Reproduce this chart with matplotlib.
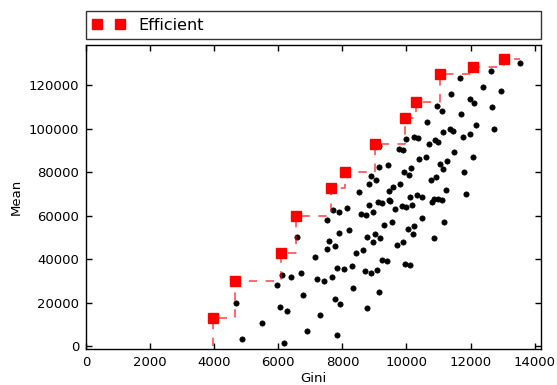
import numpy as np
import matplotlib
matplotlib.use("Agg")
import matplotlib.pyplot as plt

# all portfolios (gini, mean)
gini = [4875, 5478, 6178, 4688, 5969, 6041, 6272, 6125, 6397, 6719,
        6594, 7147, 6759, 6897, 7297, 7209, 7438, 7678, 7756, 7938,
        7828, 8041, 8291, 8338, 7844, 7522, 7781, 7578, 7900, 8203,
        8428, 8631, 8772, 8959, 9025, 9169, 8697, 8884, 9084, 9156,
        8772, 7531, 7697, 7884, 8150, 8572, 8728, 8947, 8844, 9100,
        9241, 8506, 8819, 9063, 8906, 9156, 9428, 9156, 9500, 9634,
        9866, 9991, 10178, 10781, 10500, 9291, 9541, 10041, 10250, 10197,
        10859, 9719, 9891, 9225, 9400, 9959, 10119, 13553, 12647, 11666,
        12391, 12938, 11391, 11991, 12116, 10959, 11094, 12666, 11703, 10656,
        12163, 12728, 11125, 11359, 11453, 11750, 11969, 9991, 10244, 10359,
        10900, 10984, 10694, 9756, 9881, 11478, 12069, 10391, 10619, 11047,
        11256, 11141, 10156, 9913, 10094, 11788, 10906, 10750, 9813, 9594,
        11228, 11853, 10125, 10334, 10469, 10853, 10984, 11094, 9469, 9447,
        11156]
mean = [3200, 10700, 1500, 19900, 28000, 18100, 16100, 32600, 31900, 33400,
        50000, 40800, 23300, 6800, 14200, 30800, 30100, 31500, 21500, 19400,
        36000, 35300, 36800, 26800, 4900, 44600, 46000, 48100, 52000, 53300,
        42900, 44300, 50200, 48000, 51700, 49600, 34300, 33600, 34900, 25000,
        17700, 58000, 62500, 61700, 63400, 60900, 60100, 61500, 64800, 66000,
        65600, 70700, 74700, 76200, 78200, 82100, 83400, 92000, 66700, 63000,
        64400, 63800, 65000, 66000, 59000, 55500, 56900, 53700, 55200, 51600,
        49800, 46300, 47700, 39500, 38900, 37800, 37100, 130000, 126600, 123100,
        119000, 117200, 115700, 113700, 111700, 110300, 108100, 109800, 106500, 103000,
        101700, 99900, 98400, 99600, 98900, 96200, 97600, 95100, 96200, 95600,
        94700, 93700, 93000, 90800, 90200, 89100, 87100, 85800, 86900, 83700,
        85100, 81600, 81800, 80200, 78500, 79800, 77700, 76200, 74300, 73000,
        71600, 69900, 68700, 69500, 68600, 67400, 67700, 67100, 71300, 67100,
        57200]

# efficient frontier
eff_gini = [3959, 4656, 6084, 6553, 7656, 8072, 9009, 9969, 10303, 11041, 12084, 13041]
eff_mean = [12700, 30000, 42600, 59900, 72500, 79900, 92700, 104800, 112000, 124900, 128400, 131800]

plt.rcParams['font.family'] = 'DejaVu Sans'
fig = plt.figure(figsize=(5.57, 3.85), dpi=100)
ax = fig.add_axes([0.1544, 0.0943, 0.817, 0.7888])

ax.plot(gini, mean, 'o', color='black', markersize=3.8, markeredgewidth=0.5, zorder=2)

# frontier as a dashed staircase
step_x = [eff_gini[0]] + eff_gini + [max(gini)]
step_y = [0] + eff_mean + [eff_mean[-1]]
ax.plot(step_x, step_y, color='red', alpha=0.75, linewidth=1.1,
        dashes=(5.5, 5.5), drawstyle='steps-post', zorder=3)
ax.plot(eff_gini, eff_mean, 's', color='red', markersize=7.0,
        markeredgecolor='red', label='Efficient', zorder=4)

ax.set_xlim(0, 14200)
ax.set_ylim(-1240, 138400)
ax.set_xticks(np.arange(0, 14001, 2000))
ax.set_yticks(np.arange(0, 120001, 20000))
ax.tick_params(direction='in', top=True, right=True, length=4, width=1,
               labelsize=9.5, pad=5)
for s in ax.spines.values():
    s.set_linewidth(1.0)
ax.set_xlabel('Gini', fontsize=9.5, labelpad=2.5)
ax.set_ylabel('Mean', fontsize=9.5)

leg = ax.legend(bbox_to_anchor=(0, 1.02, 1, 0.095), loc='lower left', mode='expand',
                borderaxespad=0, numpoints=2, fontsize=11.5, fancybox=False,
                handlelength=2.05, handletextpad=0.85, borderpad=0.4)
leg.get_frame().set_edgecolor('black')
leg.get_frame().set_linewidth(1.0)

fig.savefig('out.png', dpi=100)
